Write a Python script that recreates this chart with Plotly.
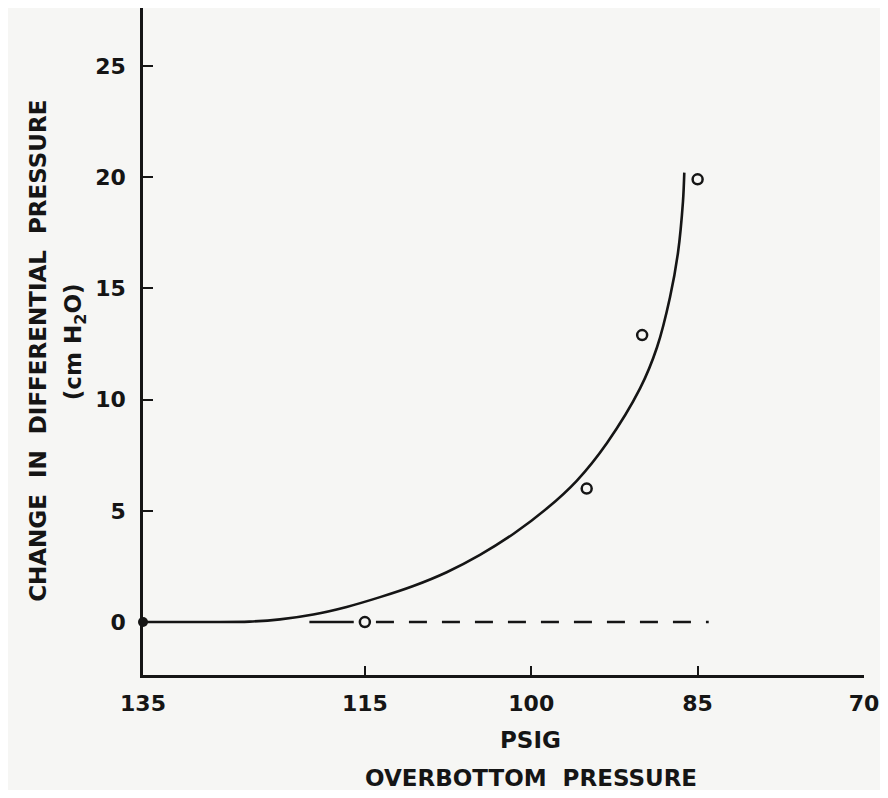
import plotly.graph_objects as go

# ---- data ----
x_ticks = [135, 115, 100, 85, 70]
y_ticks = [0, 5, 10, 15, 20, 25]

# measured points (open circles)
pts_x = [115, 95, 90, 85]
pts_y = [0, 6, 12.9, 19.9]

# starting point (filled)
start_x = [135]
start_y = [0]

# fitted curve
curve_x = [135, 129, 125.4, 122.65, 119.65, 116.64, 113.63, 110.63, 107.62,
           104.62, 101.62, 98.60, 95.90, 93.17, 90.19, 88.66, 87.49, 86.77,
           86.32, 86.2]
curve_y = [0, 0, 0.02, 0.12, 0.34, 0.68, 1.12, 1.62, 2.24,
           3.02, 3.96, 5.1, 6.35, 8.05, 10.5, 12.35, 14.6, 16.6,
           18.9, 20.2]

# baseline (solid lead-in, then dashed)
base_solid_x = [120.0, 116.0]
base_solid_y = [0, 0]
base_dash_x = [114.0, 84.0]
base_dash_y = [0, 0]

INK = "#151515"
BG = "#f6f6f4"
FONT = "DejaVu Sans"

fig = go.Figure()

fig.add_trace(go.Scatter(x=curve_x, y=curve_y, mode="lines",
                         line=dict(color=INK, width=2.6, shape="spline", smoothing=0.9),
                         hoverinfo="skip", showlegend=False, cliponaxis=False))
fig.add_trace(go.Scatter(x=base_solid_x, y=base_solid_y, mode="lines",
                         line=dict(color=INK, width=2.6),
                         showlegend=False, cliponaxis=False))
fig.add_trace(go.Scatter(x=base_dash_x, y=base_dash_y, mode="lines",
                         line=dict(color=INK, width=2.6, dash="18px,15px"),
                         showlegend=False, cliponaxis=False))
fig.add_trace(go.Scatter(x=pts_x, y=pts_y, mode="markers",
                         marker=dict(symbol="circle-open", size=10, color=INK,
                                     line=dict(width=2.5, color=INK)),
                         showlegend=False, cliponaxis=False))
fig.add_trace(go.Scatter(x=start_x, y=start_y, mode="markers",
                         marker=dict(symbol="circle", size=10, color=INK),
                         showlegend=False, cliponaxis=False))

tickfont = dict(family=FONT, size=22, color=INK, weight="bold")
titlefont = dict(family=FONT, size=23, color=INK, weight="bold")

# page body has an 8px margin: the figure is sized/offset to compensate
fig.update_layout(
    width=872, height=782,
    margin=dict(l=135, r=16, t=0, b=115),
    paper_bgcolor=BG, plot_bgcolor=BG,
    xaxis=dict(range=[135, 70], tickvals=x_ticks, ticktext=[str(v) for v in x_ticks],
               showgrid=False, zeroline=False, showline=True, linecolor=INK, linewidth=2.6,
               ticks="inside", ticklen=9, tickwidth=2.2, tickcolor=INK,
               tickfont=tickfont, ticklabelstandoff=7),
    yaxis=dict(range=[-2.38, 27.6], tickvals=y_ticks, ticktext=[str(v) for v in y_ticks],
               showgrid=False, zeroline=False, showline=True, linecolor=INK, linewidth=2.6,
               ticks="inside", ticklen=10, tickwidth=2.2, tickcolor=INK,
               tickfont=tickfont, ticklabelstandoff=10),
    annotations=[
        dict(text="PSIG", xref="paper", yref="paper", x=0.538, y=-0.0975,
             xanchor="center", yanchor="middle", showarrow=False, font=titlefont),
        dict(text="OVERBOTTOM  PRESSURE", xref="paper", yref="paper", x=0.538, y=-0.155,
             xanchor="center", yanchor="middle", showarrow=False, font=titlefont),
        dict(text="CHANGE  IN  DIFFERENTIAL  PRESSURE", xref="paper", yref="paper",
             x=-0.1456, y=0.486, textangle=-90, xanchor="center", yanchor="middle",
             showarrow=False, font=titlefont),
        dict(text="(cm H<sub>2</sub>O)", xref="paper", yref="paper",
             x=-0.0943, y=0.499, textangle=-90, xanchor="center", yanchor="middle",
             showarrow=False, font=titlefont),
    ],
)

fig.write_html("out.html")
